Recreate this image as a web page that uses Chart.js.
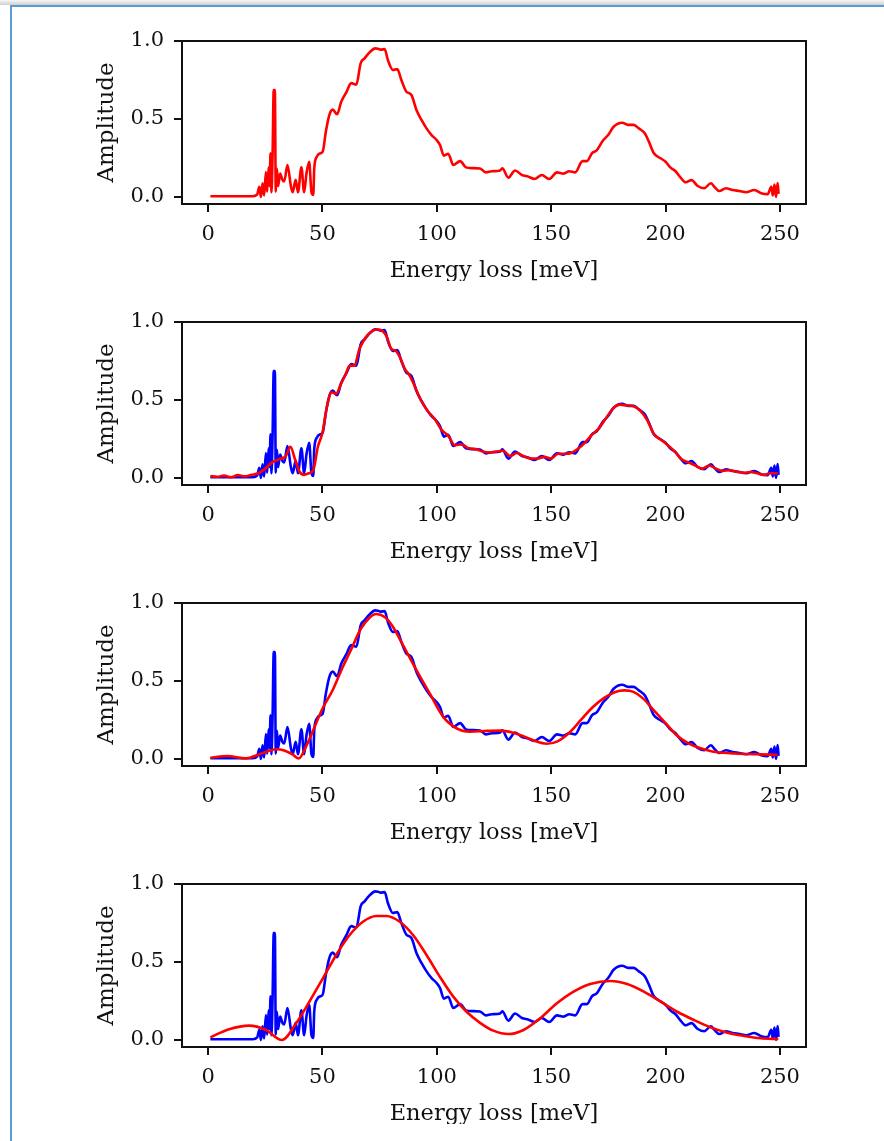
<!DOCTYPE html>
<html>
<head>
<meta charset="utf-8">
<script src="https://cdn.jsdelivr.net/npm/chart.js@4.4.1/dist/chart.umd.min.js"></script>
<style>
  html, body { margin: 0; padding: 0; background: #fff; }
  body { width: 884px; height: 1141px; position: relative; overflow: hidden; }
  #shade { position: absolute; left: 0; top: 0; width: 884px; height: 5px; background: linear-gradient(#f6f6f6, #cfcfcf); }
  #frame { position: absolute; left: 10px; top: 5px; right: 0; bottom: 0;
           border-left: 2px solid #5b9bd5; border-top: 2px solid #5b9bd5; }
  canvas { position: absolute; left: 0; }
</style>
</head>
<body>
<div id="shade"></div>
<div id="frame"></div>
<canvas id="p0" width="884" height="281" style="top:0px"></canvas>
<canvas id="p1" width="884" height="281" style="top:281px"></canvas>
<canvas id="p2" width="884" height="281" style="top:562px"></canvas>
<canvas id="p3" width="884" height="281" style="top:843px"></canvas>
<script>
const specE = [1, 19.5, 21.5, 22.4, 23.1, 23.8, 24.5, 25.3, 25.8, 26.5, 26.9, 27.3, 27.7, 28.2, 28.7, 29.2,
  29.6, 30.1, 30.6, 31.5, 32.5, 33.3, 34.7, 36.2, 37.0, 38.3, 39.3, 40.8, 42.0, 43.0, 44.2, 45.2, 46.0,
  46.4, 47.6, 49.1, 50.1, 51.5, 53.0, 54.5, 56.4, 58.2, 60.4, 62.6, 64.8, 66.7, 68.4, 70.6, 73.1, 74.3,
  75.4, 77.2, 78.6, 80.8, 82.7, 84.5, 86.7, 88.9, 91.1, 93.3, 95.5, 97.7, 99.9, 101.4, 103.1, 105.0,
  107.2, 110.2, 112.7, 115.3, 118.9, 121.4, 124.0, 127.7, 128.6, 131.3, 134.2, 137.2, 140.1, 142.7,
  145.9, 149.1, 152.5, 155.4, 157.9, 160.5, 163.7, 165.6, 167.8, 170.0, 172.5, 174.9, 177.3, 181.0,
  183.9, 186.1, 188.3, 190.9, 192.7, 194.9, 197.8, 200.0, 202.2, 204.4, 206.6, 208.8, 211.4, 213.9,
  216.9, 219.8, 221.3, 223.5, 226.4, 229.3, 232.3, 235.2, 238.8, 241.8, 244.7, 246.2, 246.9, 247.6,
  248.3, 249.0, 249.4];
const specA = [0.005, 0.005, 0.017, 0.066, 0.0, 0.088, 0.01, 0.16, 0.034, 0.19, 0.07, 0.28, 0.03, 0.27, 0.686, 0.686,
  0.034, 0.18, 0.07, 0.15, 0.11, 0.10, 0.205, 0.07, 0.03, 0.11, 0.03, 0.19, 0.03, 0.15, 0.226, 0.03, 0.013,
  0.18, 0.26, 0.28, 0.29, 0.42, 0.525, 0.56, 0.53, 0.61, 0.67, 0.73, 0.72, 0.857, 0.889, 0.927, 0.953, 0.95,
  0.945, 0.948, 0.878, 0.814, 0.82, 0.75, 0.675, 0.654, 0.558, 0.494, 0.44, 0.397, 0.365, 0.333, 0.265, 0.277,
  0.205, 0.23, 0.19, 0.185, 0.183, 0.158, 0.165, 0.17, 0.184, 0.124, 0.17, 0.141, 0.13, 0.115,
  0.141, 0.115, 0.158, 0.15, 0.165, 0.158, 0.23, 0.23, 0.28, 0.30, 0.359, 0.397, 0.45, 0.476,
  0.462, 0.462, 0.44, 0.408, 0.355, 0.28, 0.248, 0.226, 0.188, 0.165, 0.124, 0.094, 0.108, 0.072,
  0.056, 0.088, 0.066, 0.038, 0.056, 0.045, 0.038, 0.03, 0.045, 0.024, 0.018, 0.066, 0.01, 0.08,
  0.0, 0.09, 0.02];

// reconstruction, panel 2 (close fit)
const fit1E = [1, 4, 7, 10, 13, 16, 19, 22, 25, 28, 31, 34, 36, 38, 40, 42, 44, 46, 48, 50, 52, 54, 56, 58,
  60, 62, 64, 66, 68, 70, 72, 74, 76, 78, 80, 82, 84, 86, 88, 90, 93, 96, 99, 102, 105, 108, 111, 114, 117,
  120, 123, 126, 129, 132, 135, 138, 141, 144, 147, 150, 153, 156, 159, 162, 165, 168, 171, 174, 177, 180,
  183, 186, 189, 192, 195, 198, 201, 204, 207, 210, 213, 216, 219, 222, 225, 228, 231, 234, 237, 240, 243,
  246, 249];
const fit1A = [0.012, 0.008, 0.015, 0.005, 0.018, 0.01, 0.02, 0.03, 0.06, 0.10, 0.12, 0.14, 0.2, 0.12, 0.04,
  0.02, 0.03, 0.05, 0.2, 0.29, 0.46, 0.55, 0.54, 0.60, 0.66, 0.72, 0.72, 0.82, 0.88, 0.92, 0.945, 0.952, 0.945,
  0.91, 0.83, 0.815, 0.77, 0.70, 0.66, 0.60, 0.50, 0.43, 0.38, 0.31, 0.27, 0.21, 0.215, 0.19, 0.185, 0.17,
  0.163, 0.17, 0.175, 0.14, 0.16, 0.14, 0.125, 0.125, 0.135, 0.125, 0.155, 0.155, 0.162, 0.19, 0.23, 0.28,
  0.32, 0.385, 0.445, 0.47, 0.465, 0.46, 0.43, 0.37, 0.28, 0.245, 0.21, 0.17, 0.12, 0.10, 0.08, 0.06, 0.08,
  0.06, 0.045, 0.05, 0.04, 0.033, 0.038, 0.03, 0.02, 0.03, 0.03];

// reconstruction, panel 3 (smoother)
const fit2E = [1, 8.5, 16.5, 22.4, 26, 29.7, 33.3, 36.9, 39.6, 42.8, 47.2, 50.1, 54.5, 58.9, 62.5, 66.9,
  70.6, 73.5, 77.2, 80.8, 85.2, 91.1, 96.9, 102.8, 108.6, 114.5, 121.8, 127.7, 133, 138, 143, 148, 153,
  158, 163, 168, 173, 178, 182, 186, 190, 195, 200, 205, 210, 215, 220, 225, 230, 235, 240, 245, 249];
const fit2A = [0.008, 0.019, 0.004, 0.03, 0.05, 0.062, 0.055, 0.03, 0.003, 0.079, 0.228, 0.325, 0.442,
  0.59, 0.70, 0.838, 0.906, 0.929, 0.91, 0.848, 0.73, 0.57, 0.42, 0.27, 0.197, 0.175, 0.18, 0.182, 0.17,
  0.145, 0.115, 0.098, 0.115, 0.17, 0.25, 0.33, 0.39, 0.43, 0.44, 0.43, 0.39, 0.31, 0.23, 0.15, 0.10,
  0.07, 0.05, 0.04, 0.035, 0.032, 0.03, 0.028, 0.026];

// reconstruction, panel 4 (smoothest)
const fit3E = [1, 9.2, 18, 25.3, 32.3, 38.5, 44.3, 50.2, 56, 61.9, 67.7, 73.5, 77.9, 83.8, 89.6, 95.5,
  101.3, 107.2, 113, 118.9, 124.7, 131.3, 137.9, 145.2, 152.5, 159.8, 167.1, 175.9, 183.2, 190.5, 197.8,
  205.1, 212.4, 219.7, 227, 234.3, 241.6, 249.3];
const fit3A = [0.017, 0.069, 0.092, 0.064, 0.0, 0.107, 0.246, 0.395, 0.545, 0.673, 0.758, 0.795, 0.795,
  0.758, 0.673, 0.545, 0.406, 0.278, 0.181, 0.11, 0.06, 0.038, 0.064, 0.139, 0.235, 0.31, 0.359, 0.378,
  0.359, 0.31, 0.246, 0.181, 0.128, 0.081, 0.047, 0.026, 0.011, 0.006];

const xTicks = [0, 50, 100, 150, 200, 250];
const yTicks = [0.0, 0.5, 1.0];
const xLabel = 'Energy loss [meV]';
const yLabel = 'Amplitude';

const FONT = "'DejaVu Serif', serif";

function pts(xs, ys) { return xs.map((x, i) => ({ x, y: ys[i] })); }

const boxPlugin = {
  id: 'box',
  afterDraw(chart) {
    const { ctx, chartArea: a } = chart;
    ctx.save();
    ctx.strokeStyle = '#111';
    ctx.lineWidth = 2;
    ctx.strokeRect(a.left, a.top, a.right - a.left, a.bottom - a.top);
    ctx.restore();
  }
};

function line(data, color, order) {
  return { data, borderColor: color, borderWidth: 2.6, pointRadius: 0,
           cubicInterpolationMode: 'monotone', order, fill: false };
}

function makePanel(id, datasets) {
  new Chart(document.getElementById(id), {
    type: 'line',
    data: { datasets },
    plugins: [boxPlugin],
    options: {
      responsive: false,
      animation: false,
      events: [],
      layout: { padding: { top: 41, left: 96, right: 78, bottom: 0 } },
      plugins: { legend: { display: false }, tooltip: { enabled: false } },
      scales: {
        x: {
          type: 'linear', min: -11.4, max: 261.4,
          border: { display: false },
          grid: { drawOnChartArea: false, drawTicks: true, tickLength: 8, color: '#111', lineWidth: 2 },
          ticks: { color: '#111', padding: 10, autoSkip: false, maxRotation: 0,
                   font: { family: FONT, size: 21 }, callback: v => String(v) },
          afterBuildTicks: s => { s.ticks = xTicks.map(v => ({ value: v })); },
          afterFit: s => { s.height = 77; },
          title: { display: true, text: xLabel, color: '#111', padding: 0,
                   font: { family: FONT, size: 22.5, lineHeight: 0.9 } }
        },
        y: {
          type: 'linear', min: -0.045, max: 1.0,
          border: { display: false },
          grid: { drawOnChartArea: false, drawTicks: true, tickLength: 8, color: '#111', lineWidth: 2 },
          ticks: { color: '#111', padding: 10, font: { family: FONT, size: 21 },
                   callback: v => v.toFixed(1) },
          afterBuildTicks: s => { s.ticks = yTicks.map(v => ({ value: v })); },
          afterFit: s => { s.width = 86; },
          title: { display: true, text: yLabel, color: '#111', padding: 0,
                   font: { family: FONT, size: 23, lineHeight: 1 } }
        }
      }
    }
  });
}

const spectrum = () => pts(specE, specA);

makePanel('p0', [line(spectrum(), '#ff0000', 0)]);
makePanel('p1', [line(pts(fit1E, fit1A), '#ff0000', 0), line(spectrum(), '#0000ff', 1)]);
makePanel('p2', [line(pts(fit2E, fit2A), '#ff0000', 0), line(spectrum(), '#0000ff', 1)]);
makePanel('p3', [line(pts(fit3E, fit3A), '#ff0000', 0), line(spectrum(), '#0000ff', 1)]);
</script>
</body>
</html>
